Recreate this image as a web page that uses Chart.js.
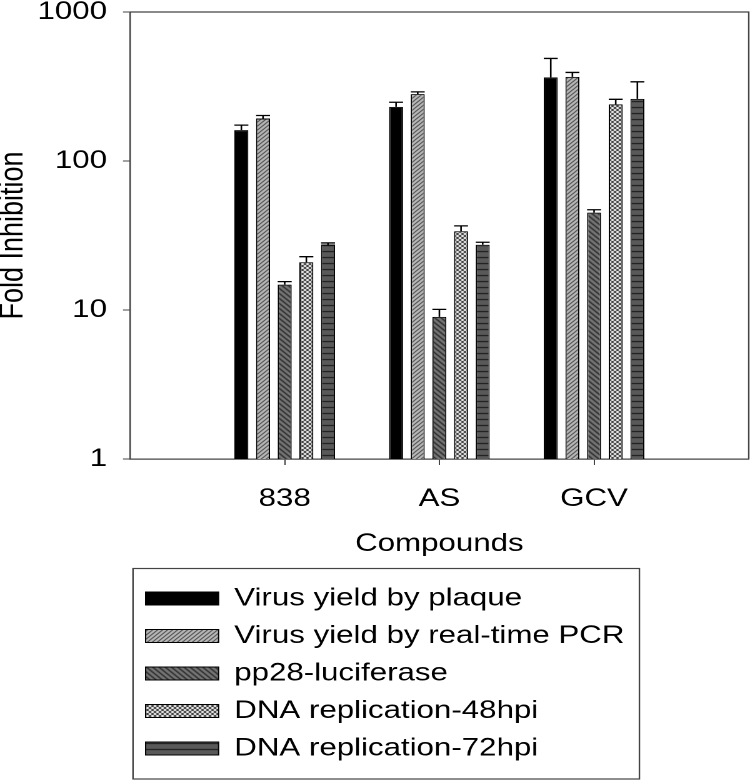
<!DOCTYPE html>
<html>
<head>
<meta charset="utf-8">
<script src="https://cdn.jsdelivr.net/npm/chart.js@4.4.1/dist/chart.umd.min.js"></script>
<style>
  html, body { margin: 0; padding: 0; background: #fff; overflow: hidden; }
  #wrap { position: absolute; left: 0; top: 0; width: 600px; height: 781px;
          transform: scaleX(1.25); transform-origin: 0 0; }
</style>
</head>
<body>
<div id="wrap"><canvas id="c"></canvas></div>
<script>
// ---- data ----
const categories = ['838', 'AS', 'GCV'];
const seriesNames = [
  'Virus yield by plaque',
  'Virus yield by real-time PCR',
  'pp28-luciferase',
  'DNA replication-48hpi',
  'DNA replication-72hpi'
];
const plaque = [161, 231, 364];
const pcr = [193, 281, 367];
const pp28 = [14.8, 9.0, 45];
const dna48 = [20.9, 33.8, 240];
const dna72 = [27.5, 27.4, 261];

const plaqueErr = [13, 17, 124];
const pcrErr = [9, 10, 26];
const pp28Err = [0.7, 1.1, 2.1];
const dna48Err = [1.9, 2.9, 19.5];
const dna72Err = [0.7, 1.1, 79];

const yTicks = [1, 10, 100, 1000];
const xTicks = [1, 2, 3];

// ---- patterns ----
function makeTile(w, h, draw) {
  const c = document.createElement('canvas');
  c.width = w; c.height = h;
  const g = c.getContext('2d');
  draw(g, w, h);
  return document.createElement('canvas').getContext('2d').createPattern(c, 'repeat');
}
const patPCR = makeTile(4, 4, (g, w, h) => {
  g.fillStyle = '#bdbdbd'; g.fillRect(0, 0, w, h);
  g.strokeStyle = '#1a1a1a'; g.lineWidth = 1;
  g.beginPath();
  g.moveTo(-1, h + 1); g.lineTo(w + 1, -1);
  g.moveTo(-1, 1); g.lineTo(1, -1);
  g.moveTo(w - 1, h + 1); g.lineTo(w + 1, h - 1);
  g.stroke();
});
const patPP28 = makeTile(5, 5, (g, w, h) => {
  g.fillStyle = '#7a7a7a'; g.fillRect(0, 0, w, h);
  g.strokeStyle = '#151515'; g.lineWidth = 1.1;
  g.beginPath();
  g.moveTo(-1, -1); g.lineTo(w + 1, h + 1);
  g.moveTo(w - 1, -1); g.lineTo(w + 1, 1);
  g.moveTo(-1, h - 1); g.lineTo(1, h + 1);
  g.stroke();
});
const patDNA48 = makeTile(4, 4, (g, w, h) => {
  g.fillStyle = '#ffffff'; g.fillRect(0, 0, w, h);
  g.strokeStyle = '#111'; g.lineWidth = 0.9;
  g.beginPath();
  g.moveTo(-1, -1); g.lineTo(w + 1, h + 1);
  g.moveTo(-1, h + 1); g.lineTo(w + 1, -1);
  g.stroke();
});
const patDNA72 = makeTile(4, 6, (g, w, h) => {
  g.fillStyle = '#595959'; g.fillRect(0, 0, w, h);
  g.fillStyle = '#111'; g.fillRect(0, 5, w, 1);
});

function series(vals, errs, label, bg) {
  return {
    label: label,
    data: categories.map((c, i) => ({ x: xTicks[i], y: vals[i] })),
    errors: errs,
    backgroundColor: bg,
    borderColor: '#000',
    borderWidth: 1
  };
}

const datasets = [
  series(plaque, plaqueErr, seriesNames[0], '#000000'),
  series(pcr, pcrErr, seriesNames[1], patPCR),
  series(pp28, pp28Err, seriesNames[2], patPP28),
  series(dna48, dna48Err, seriesNames[3], patDNA48),
  series(dna72, dna72Err, seriesNames[4], patDNA72)
];

const AXIS = '#444';

const errorBars = {
  id: 'errorBars',
  afterDatasetsDraw(chart) {
    const ctx = chart.ctx;
    const ys = chart.scales.y;
    ctx.save();
    ctx.strokeStyle = '#000';
    ctx.lineWidth = 1.3;
    chart.data.datasets.forEach((ds, i) => {
      const meta = chart.getDatasetMeta(i);
      meta.data.forEach((bar, j) => {
        const v = ds.data[j].y;
        const top = ys.getPixelForValue(v + ds.errors[j]);
        const half = bar.width / 2;
        ctx.beginPath();
        ctx.moveTo(bar.x, bar.y);
        ctx.lineTo(bar.x, top);
        ctx.moveTo(bar.x - half, top);
        ctx.lineTo(bar.x + half, top);
        ctx.stroke();
      });
    });
    ctx.restore();
  }
};

const frame = {
  id: 'frame',
  afterDraw(chart) {
    const ctx = chart.ctx;
    const a = chart.chartArea;
    ctx.save();
    ctx.strokeStyle = AXIS;
    ctx.lineWidth = 1.2;
    ctx.beginPath();
    ctx.moveTo(a.left, a.top);
    ctx.lineTo(a.right, a.top);
    ctx.lineTo(a.right, a.bottom);
    ctx.stroke();
    // legend box
    const lg = chart.legend;
    if (lg && lg.legendHitBoxes && lg.legendHitBoxes.length) {
      let r = 0;
      lg.legendHitBoxes.forEach(h => { r = Math.max(r, h.left + h.width); });
      const l = lg.left + 2.4;
      const t = lg.top - 5;
      const b = chart.height - 2;
      ctx.strokeRect(l, t, r + 12 - l, b - t);
    }
    ctx.restore();
  }
};

Chart.defaults.font.family = "'Liberation Sans', Arial, sans-serif";
Chart.defaults.color = '#000';

new Chart(document.getElementById('c'), {
  type: 'bar',
  data: { datasets: datasets },
  options: {
    responsive: true,
    maintainAspectRatio: false,
    animation: false,
    devicePixelRatio: 2,
    categoryPercentage: 0.7,
    barPercentage: 0.645,
    layout: { padding: { top: 12, right: 1, bottom: 10, left: 0 } },
    plugins: {
      tooltip: { enabled: false },
      legend: {
        position: 'bottom',
        align: 'start',
        fullSize: false,
        labels: {
          boxWidth: 58.4,
          boxHeight: 13,
          padding: 12.5,
          color: '#000',
          font: { size: 25 }
        }
      }
    },
    scales: {
      x: {
        type: 'linear',
        min: 0,
        max: 4,
        offset: false,
        afterBuildTicks: s => { s.ticks = xTicks.map(v => ({ value: v })); },
        afterFit: s => { s.height = 114.5; s.paddingLeft = 0; s.paddingRight = 0; },
        ticks: {
          callback: v => categories[xTicks.indexOf(v)] || '',
          font: { size: 25, lineHeight: 1.2 },
          padding: 19,
          maxRotation: 0,
          autoSkip: false
        },
        grid: { display: true, drawOnChartArea: false, drawTicks: true, tickLength: 6, color: AXIS, offset: false },
        border: { display: true, color: AXIS, width: 1.2 },
        title: { display: true, text: 'Compounds', font: { size: 25, lineHeight: 1.2 }, padding: { top: 0, bottom: 14.5 } }
      },
      y: {
        type: 'logarithmic',
        min: 1,
        max: 1000,
        afterBuildTicks: s => { s.ticks = yTicks.map(v => ({ value: v })); },
        afterFit: s => { s.width = 104; s.paddingTop = 12; s.paddingBottom = 0; },
        ticks: {
          callback: v => String(v),
          font: { size: 25, lineHeight: 1 },
          padding: 12.8
        },
        grid: { display: true, drawOnChartArea: false, drawTicks: true, tickLength: 5.6, color: AXIS },
        border: { display: true, color: AXIS, width: 1.2 },
        title: { display: true, text: 'Fold Inhibition', font: { size: 27, lineHeight: 1 }, padding: { top: -3, bottom: 0 } }
      }
    }
  },
  plugins: [errorBars, frame]
});
</script>
</body>
</html>
